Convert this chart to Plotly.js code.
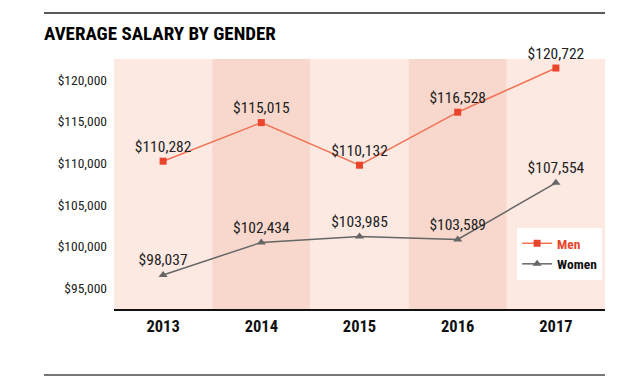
<!DOCTYPE html>
<html>
<head>
<meta charset="utf-8">
<script src="https://cdn.plot.ly/plotly-3.0.1.min.js"></script>
<style>
html,body{margin:0;padding:0;background:#fff;}
#chart{width:618px;height:376px;}
</style>
</head>
<body>
<div id="chart"></div>
<script>
// Data
var years = ['2013', '2014', '2015', '2016', '2017'];
// stated values (labels)
var menLabels = ['$110,282', '$115,015', '$110,132', '$116,528', '$120,722'];
var womenLabels = ['$98,037', '$102,434', '$103,985', '$103,589', '$107,554'];
// plotted positions as drawn in the picture
var menValues = [110240, 114880, 109760, 116130, 121440];
var womenValues = [96560, 100480, 101200, 100840, 107640];
var yTicks = [95000, 100000, 105000, 110000, 115000, 120000];
var yTickLabels = ['$95,000', '$100,000', '$105,000', '$110,000', '$115,000', '$120,000'];

var NARROW = '"Liberation Sans Narrow", "Arial Narrow", "Roboto Condensed", "DejaVu Sans Condensed", sans-serif';
var bandLight = '#fce9e2';
var bandDark = '#f8d8cc';

var shapes = [];
years.forEach(function (y, i) {
  shapes.push({
    type: 'rect', xref: 'x', yref: 'paper', layer: 'below',
    x0: i - 0.5, x1: i + 0.5, y0: 0, y1: 1,
    fillcolor: (i % 2 === 1) ? bandDark : bandLight,
    line: {width: 0}
  });
});
// top and bottom rules
shapes.push({type: 'line', xref: 'paper', yref: 'paper', x0: -0.1426, x1: 1, y0: 1.184, y1: 1.184,
  line: {color: '#222', width: 1.5}});
shapes.push({type: 'line', xref: 'paper', yref: 'paper', x0: -0.1426, x1: 1, y0: -0.264, y1: -0.264,
  line: {color: '#777', width: 2}});

var traces = [
  {
    x: years, y: menValues, type: 'scatter', mode: 'lines+markers+text',
    name: '<b><span style="color:#e8452c">Men</span></b>',
    text: menLabels, textposition: 'top center',
    textfont: {family: NARROW, size: 15.5, color: '#222'},
    line: {color: '#f07356', width: 1.5},
    marker: {symbol: 'square', size: 7, color: '#e8452c'},
    cliponaxis: false, hoverinfo: 'skip'
  },
  {
    x: years, y: womenValues, type: 'scatter', mode: 'lines+markers+text',
    name: '<b>Women</b>',
    text: womenLabels, textposition: 'top center',
    textfont: {family: NARROW, size: 15.5, color: '#222'},
    line: {color: '#666', width: 1.5},
    marker: {symbol: 'triangle-up', size: 8, color: '#666'},
    cliponaxis: false, hoverinfo: 'skip'
  }
];

var layout = {
  width: 618, height: 376,
  margin: {l: 114, r: 13, t: 59, b: 67},
  paper_bgcolor: '#fff', plot_bgcolor: 'rgba(0,0,0,0)',
  title: {
    text: '<b>AVERAGE SALARY BY GENDER</b>',
    xref: 'container', yref: 'container',
    x: 44 / 618, xanchor: 'left', y: 1 - 33 / 376, yanchor: 'middle',
    font: {family: '"Roboto Condensed", "DejaVu Sans Condensed", sans-serif', size: 19, color: '#000', weight: 900}
  },
  xaxis: {
    type: 'category', range: [-0.5, 4.5],
    showgrid: false, zeroline: false,
    showline: true, linecolor: '#111', linewidth: 1.5,
    ticks: '', ticklabelstandoff: 2,
    tickfont: {family: NARROW, size: 16.5, color: '#111', weight: 'bold'},
    fixedrange: true
  },
  yaxis: {
    range: [92476, 122524],
    tickvals: yTicks, ticktext: yTickLabels,
    showgrid: false, zeroline: false, showline: false, ticks: '',
    ticklabelstandoff: 6,
    tickfont: {family: NARROW, size: 13.5, color: '#222'},
    fixedrange: true
  },
  shapes: shapes,
  showlegend: true,
  legend: {
    x: 0.821, y: 0.324, xanchor: 'left', yanchor: 'top',
    bgcolor: '#fff', borderwidth: 0,
    font: {family: NARROW, size: 13.5, color: '#111'},
    itemwidth: 30, tracegroupgap: 0
  }
};

Plotly.newPlot('chart', traces, layout, {staticPlot: true, displayModeBar: false});
</script>
</body>
</html>
